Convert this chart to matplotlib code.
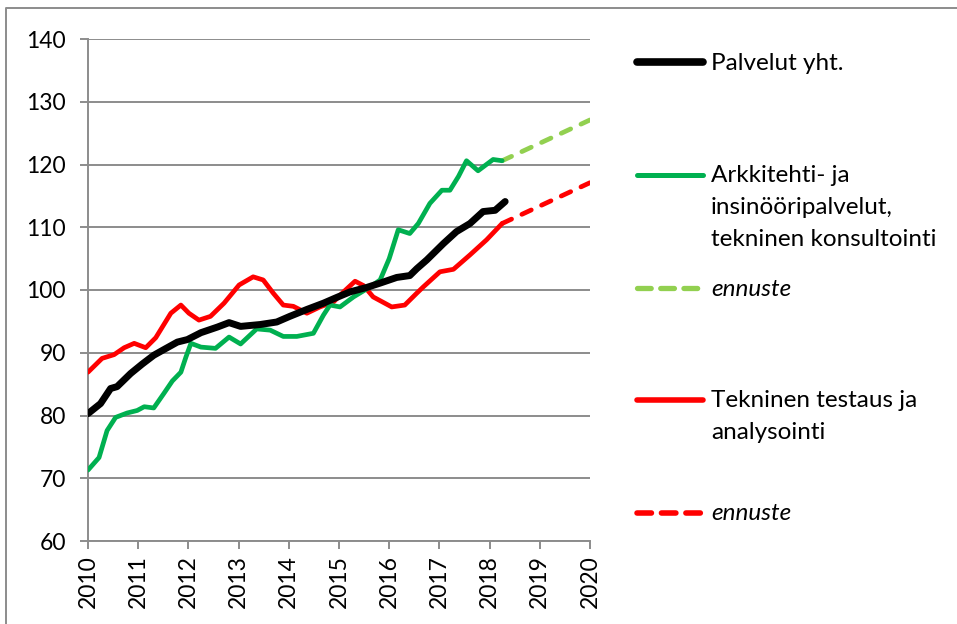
import matplotlib
matplotlib.use("Agg")
import matplotlib.pyplot as plt
from matplotlib.lines import Line2D

plt.rcParams['font.family'] = ['Lato', 'DejaVu Sans']

# ---- data ----
black_t = [2010.0, 2010.25, 2010.45, 2010.58, 2010.85, 2011.08, 2011.31, 2011.51, 2011.78, 2011.98,
           2012.25, 2012.58, 2012.81, 2013.04, 2013.43, 2013.76, 2014.02, 2014.36, 2014.69, 2014.95,
           2015.22, 2015.55, 2015.82, 2016.15, 2016.41, 2016.55, 2016.75, 2017.08, 2017.34, 2017.61,
           2017.87, 2018.11, 2018.31]
black_v = [80.3, 81.9, 84.3, 84.6, 86.7, 88.2, 89.6, 90.5, 91.7, 92.1,
           93.2, 94.1, 94.8, 94.2, 94.5, 94.9, 95.8, 96.9, 97.9, 98.8,
           99.7, 100.4, 101.1, 102.0, 102.3, 103.4, 104.8, 107.4, 109.3, 110.6,
           112.5, 112.7, 114.1]

green_t = [2010.0, 2010.22, 2010.38, 2010.55, 2010.78, 2010.98, 2011.12, 2011.31, 2011.51, 2011.68,
           2011.85, 2011.95, 2012.05, 2012.25, 2012.54, 2012.81, 2013.04, 2013.36, 2013.63, 2013.89,
           2014.16, 2014.49, 2014.69, 2014.82, 2015.02, 2015.29, 2015.62, 2015.82, 2016.0, 2016.18,
           2016.41, 2016.58, 2016.81, 2017.05, 2017.21, 2017.38, 2017.54, 2017.77, 2018.07, 2018.25]
green_v = [71.3, 73.3, 77.6, 79.7, 80.4, 80.8, 81.4, 81.2, 83.5, 85.5,
           86.9, 89.3, 91.5, 90.9, 90.7, 92.5, 91.4, 93.8, 93.6, 92.6,
           92.6, 93.1, 96.0, 97.6, 97.3, 98.9, 100.5, 101.6, 105.0, 109.6,
           109.0, 110.6, 113.8, 115.9, 115.9, 118.1, 120.6, 119.0, 120.8, 120.6]

red_t = [2010.0, 2010.28, 2010.52, 2010.72, 2010.92, 2011.15, 2011.35, 2011.65, 2011.85, 2012.01,
         2012.21, 2012.44, 2012.71, 2013.01, 2013.29, 2013.49, 2013.69, 2013.89, 2014.09, 2014.36,
         2014.62, 2014.89, 2015.09, 2015.32, 2015.49, 2015.68, 2016.05, 2016.31, 2016.55, 2016.68,
         2017.01, 2017.28, 2017.61, 2017.94, 2018.25]
red_v = [86.9, 89.1, 89.7, 90.8, 91.5, 90.8, 92.4, 96.3, 97.6, 96.3,
         95.2, 95.8, 97.9, 100.8, 102.1, 101.6, 99.5, 97.6, 97.4, 96.3,
         97.3, 98.1, 99.7, 101.4, 100.7, 98.9, 97.3, 97.6, 99.5, 100.5,
         102.9, 103.3, 105.6, 108.0, 110.6]

green_fc_t = [2018.25, 2020.0]
green_fc_v = [120.6, 127.1]
red_fc_t = [2018.25, 2020.0]
red_fc_v = [110.6, 117.1]

year_ticks = list(range(2010, 2021))
y_ticks = [60, 70, 80, 90, 100, 110, 120, 130, 140]

labels = [["Palvelut yht."],
          ["Arkkitehti- ja", "insinööripalvelut,", "tekninen konsultointi"],
          ["ennuste"],
          ["Tekninen testaus ja", "analysointi"],
          ["ennuste"]]

BLACK = "#000000"
GREEN = "#00B050"
LGREEN = "#92D050"
RED = "#FF0000"
GRID = "#8C8C8C"

W, H = 957, 624
fig = plt.figure(figsize=(W / 100, H / 100), dpi=100)

def px(x0, y0, x1, y1):
    return [x0 / W, 1 - y1 / H, (x1 - x0) / W, (y1 - y0) / H]

ax = fig.add_axes(px(88, 39, 590, 541))
ax.set_xlim(2010, 2020)
ax.set_ylim(60, 140)

ax.plot(green_fc_t, green_fc_v, color=LGREEN, lw=3.4, dashes=(2.2, 2.4),
        dash_capstyle='round', zorder=3)
ax.plot(red_fc_t, red_fc_v, color=RED, lw=3.4, dashes=(2.2, 2.4),
        dash_capstyle='round', zorder=3)
ax.plot(red_t, red_v, color=RED, lw=3.4, solid_capstyle='round',
        solid_joinstyle='round', zorder=4)
ax.plot(green_t, green_v, color=GREEN, lw=3.4, solid_capstyle='round',
        solid_joinstyle='round', zorder=5)
ax.plot(black_t, black_v, color=BLACK, lw=5.0, solid_capstyle='round',
        solid_joinstyle='round', zorder=6)

ax.set_yticks(y_ticks)
ax.set_xticks(year_ticks)
ax.set_xticklabels([str(y) for y in year_ticks], rotation=90)
ax.yaxis.grid(True, color=GRID, lw=1.4)
ax.set_axisbelow(True)
for s in ['top', 'right']:
    ax.spines[s].set_visible(False)
for s in ['left', 'bottom']:
    ax.spines[s].set_color(GRID)
    ax.spines[s].set_linewidth(1.4)
ax.tick_params(axis='both', colors=GRID, width=1.4, length=6, labelcolor='black',
               labelsize=16.5)
ax.tick_params(axis='y', pad=10)
ax.tick_params(axis='x', pad=4)

# legend drawn in a pixel-coordinate overlay
lax = fig.add_axes([0, 0, 1, 1], zorder=10)
lax.set_xlim(0, W)
lax.set_ylim(H, 0)
lax.axis('off')
lax.patch.set_alpha(0)

# outer frame (left and top edges visible)
lax.plot([6, 6, W + 5], [H + 5, 8, 8], color=GRID, lw=1.4, clip_on=False)

# (line y, colour, width, dashes, first baseline, style)
entries = [
    (62, BLACK, 5.5, None, 69.5, 'normal'),
    (174.5, GREEN, 3.6, None, 182, 'normal'),
    (287.5, LGREEN, 3.8, (2.6, 1.8), 295.5, 'italic'),
    (400, RED, 4.0, None, 407, 'normal'),
    (513, RED, 4.0, (2.6, 1.8), 519.5, 'italic'),
]
for (y, c, lw, dash, base, style), lines in zip(entries, labels):
    if dash is None:
        lax.add_line(Line2D([637, 703], [y, y], color=c, lw=lw, solid_capstyle='round'))
    else:
        lax.add_line(Line2D([637, 703], [y, y], color=c, lw=lw, dashes=dash,
                            dash_capstyle='round'))
    for i, t in enumerate(lines):
        lax.text(711, base + i * 32, t, fontsize=17.5, style=style, va='baseline',
                 ha='left')

fig.savefig("out.png", dpi=100)
